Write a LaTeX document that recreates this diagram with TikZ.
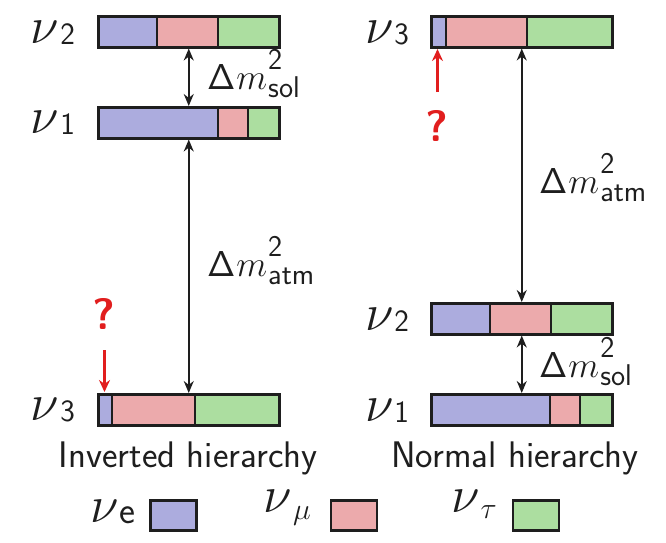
\RequirePackage{fix-cm}
\documentclass[tikz,border=0pt]{standalone}
\usetikzlibrary{arrows.meta}
\definecolor{cb}{RGB}{172,172,222}
\definecolor{cr}{RGB}{236,170,172}
\definecolor{cg}{RGB}{172,222,160}
\definecolor{qred}{RGB}{225,30,30}
\definecolor{ink}{RGB}{30,30,30}
\tikzset{
  bar/.style={draw=ink, line width=2.5pt, rectangle, minimum width=181pt, minimum height=31pt, inner sep=0pt, anchor=north west},
  seg/.style={draw=ink, line width=2.5pt},
  lvl/.style={font=\fontsize{52}{56}\selectfont, inner sep=0pt, anchor=base, text=ink},
  dlab/.style={font=\fontsize{36}{40}\selectfont, inner sep=0pt, anchor=base west, text=ink},
  captxt/.style={font=\sffamily\fontsize{37}{41}\selectfont, inner sep=0pt, text=ink, anchor=base},
  gap/.style={ink, line width=1.5pt, {Stealth[length=12pt,width=10pt]}-{Stealth[length=12pt,width=10pt]}},
  qarr/.style={qred, line width=2.2pt, -{Stealth[length=12pt,width=11pt]}},
  qmark/.style={font=\sffamily\bfseries\fontsize{44}{48}\selectfont, text=qred, inner sep=0pt},
  legbox/.style={draw=ink, line width=2.5pt, minimum width=46pt, minimum height=30pt, inner sep=0pt},
}
\newcommand{\threebar}[4]{% x y b1 b2
  \fill[cb] (#1,#2) rectangle (#3,#2+31);
  \fill[cr] (#3,#2) rectangle (#4,#2+31);
  \fill[cg] (#4,#2) rectangle (#1+181,#2+31);
  \draw[seg] (#3,#2) -- (#3,#2+31);
  \draw[seg] (#4,#2) -- (#4,#2+31);
}
\newcommand{\nulab}[1]{$\nu$\kern1pt\raisebox{-1pt}{\fontsize{31}{33}\selectfont\sffamily #1}}
\newcommand{\dm}[1]{$\mathsf{\Delta}\kern1pt m$\kern1pt\rlap{\raisebox{20pt}{\fontsize{30}{32}\selectfont\sffamily 2}}\raisebox{-8pt}{\fontsize{30}{32}\selectfont\sffamily #1}}
\begin{document}
\begin{tikzpicture}[x=1pt,y=-1pt]
\useasboundingbox (0,0) rectangle (666,542);
% left (inverted)
\threebar{97}{15}{157}{218}
\node[bar] (L2) at (97,15) {};
\threebar{97}{106}{218}{248}
\node[bar] (L1) at (97,106) {};
\threebar{97}{393}{112}{195}
\node[bar] (L3) at (97,393) {};
% right (normal)
\threebar{430}{15}{446}{527}
\node[bar] (R3) at (430,15) {};
\threebar{430}{302}{490}{551}
\node[bar] (R2) at (430,302) {};
\threebar{430}{393}{550}{580}
\node[bar] (R1) at (430,393) {};
% level labels
\node[lvl] (nL2) at (53,43) {\nulab{2}};
\node[lvl] (nL1) at (53,133) {\nulab{1}};
\node[lvl] (nL3) at (53,420) {\nulab{3}};
\node[lvl] (nR3) at (387,43) {\nulab{3}};
\node[lvl] (nR2) at (387,330) {\nulab{2}};
\node[lvl] (nR1) at (387,421) {\nulab{1}};
% gap arrows
\draw[gap] (L2.south) -- (L1.north);
\draw[gap] (L1.south) -- (L3.north);
\draw[gap] (R3.south) -- (R2.north);
\draw[gap] (R2.south) -- (R1.north);
\node[dlab] (sL) at (207,89) {\dm{sol}};
\node[dlab] (aL) at (207,276) {\dm{atm}};
\node[dlab] (aR) at (539,193) {\dm{atm}};
\node[dlab] (sR) at (539,377) {\dm{sol}};
% question marks
\node[qmark] (qL) at (104,314) {?};
\coordinate (qLs) at (104.5,350);
\draw[qarr] (qLs) -- (104.5,392);
\node[qmark] (qR) at (437,126) {?};
\coordinate (qRs) at (437.5,92);
\draw[qarr] (qRs) -- (437.5,49);
% captions
\node[captxt] (cL) at (188,467) {Inverted hierarchy};
\node[captxt] (cR) at (515,467) {Normal hierarchy};
% legend
\node[legbox, fill=cb] (be) at (173.5,515.5) {};
\node[legbox, fill=cr] (br) at (354,515.5) {};
\node[legbox, fill=cg] (bg) at (536,515.5) {};
\node[lvl, anchor=base east] (le) at (136,522) {$\nu$\kern1pt\raisebox{-1pt}{\fontsize{38}{40}\selectfont\sffamily e}};
\node[lvl, anchor=base east] (lm) at (311,512) {$\nu$\kern1pt\raisebox{-7pt}{\fontsize{30}{32}\selectfont$\mu$}};
\node[lvl, anchor=base east] (lt) at (497,512) {$\nu$\kern1pt\raisebox{-6pt}{\fontsize{30}{32}\selectfont$\tau$}};
\end{tikzpicture}
\end{document}
